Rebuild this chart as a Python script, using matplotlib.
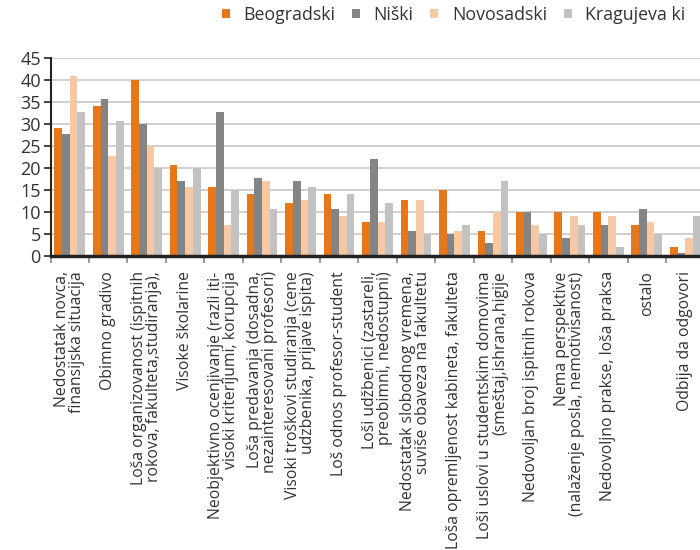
import matplotlib
matplotlib.use("Agg")
import matplotlib.pyplot as plt
import numpy as np

plt.rcParams['font.family'] = ['Open Sans', 'DejaVu Sans']

categories = [
    "Nedostatak novca,\nfinansijska situacija",
    "Obimno gradivo",
    "Loša organizovanost (ispitnih\nrokova, fakulteta,studiranja),",
    "Visoke školarine",
    "Neobjektivno ocenjivanje (razli iti-\nvisoki kriterijumi, korupcija",
    "Loša predavanja (dosadna,\nnezainteresovani profesori)",
    "Visoki troškovi studiranja (cene\nudzbenika, prijave ispita)",
    "Loš odnos profesor-student",
    "Loši udžbenici (zastareli,\npreobimni, nedostupni)",
    "Nedostatak slobodnog vremena,\nsuviše obaveza na fakultetu",
    "Loša opremljenost kabineta, fakulteta",
    "Loši uslovi u studentskim domovima\n(smeštaj,ishrana,higije",
    "Nedovoljan broj ispitnih rokova",
    "Nema perspektive\n(nalaženje posla, nemotivisanost)",
    "Nedovoljno prakse, loša praksa",
    "ostalo",
    "Odbija da odgovori",
]
series_names = ["Beogradski", "Niški", "Novosadski", "Kragujeva ki"]
beogradski = [29.1, 34.2, 40.0, 20.7, 15.7, 14.1, 12.1, 14.1, 7.7, 12.8, 15.0, 5.7, 10.0, 10.0, 10.0, 7.1, 2.0]
niski = [27.8, 35.7, 30.1, 17.1, 32.8, 17.8, 17.1, 10.7, 22.1, 5.7, 5.0, 3.0, 10.0, 4.1, 7.1, 10.7, 0.7]
novosadski = [40.8, 22.8, 25.0, 15.7, 7.1, 17.1, 12.8, 9.1, 7.7, 12.8, 5.7, 10.0, 7.1, 9.1, 9.1, 7.7, 4.1]
kragujevacki = [32.8, 30.7, 20.0, 20.0, 15.0, 10.7, 15.7, 14.1, 12.1, 5.0, 7.1, 17.1, 5.0, 7.1, 2.0, 5.0, 9.1]
colors = ["#E8771A", "#848484", "#F6C9A4", "#C2C2C2"]

fig = plt.figure(figsize=(7, 5.5), dpi=100)
ax = fig.add_axes([50.5 / 700, 1 - 256 / 550, 654 / 700, 198 / 550])

x = np.arange(len(categories))
w = 0.2
data = [beogradski, niski, novosadski, kragujevacki]
bars = []
for i, vals in enumerate(data):
    b = ax.bar(x + (i - 1.5) * w, vals, w, color=colors[i], label=series_names[i], zorder=3)
    bars.append(b)

ax.set_xlim(-0.5, len(categories) - 0.5)
ax.set_ylim(0, 45)
ax.set_yticks(np.arange(0, 46, 5))
ax.yaxis.grid(True, color="#c8c8c8", linewidth=1.2, zorder=0)
ax.tick_params(axis='y', labelsize=13, labelcolor="#333333", length=5, width=1.2, color="#222222", pad=2)

ax.set_xticks(x)
ax.set_xticklabels(categories, rotation=90, fontsize=11.3, color="#333333",
                   multialignment='right', linespacing=0.92)
ax.tick_params(axis='x', which='major', length=0, pad=11)
ax.set_xticks(np.arange(-0.5, len(categories), 1), minor=True)
ax.tick_params(axis='x', which='minor', length=5, width=1.2, color="#888888")

for s in ["top", "right"]:
    ax.spines[s].set_visible(False)
ax.spines["left"].set_color("#222222")
ax.spines["left"].set_linewidth(1.5)
ax.spines["bottom"].set_color("#222222")
ax.spines["bottom"].set_linewidth(2.5)
ax.spines["bottom"].set_zorder(4)

fig.legend(handles=bars, labels=series_names, loc='center left', bbox_to_anchor=(206 / 700, 1 - 15 / 550),
           ncol=4, frameon=False, fontsize=12.8, handlelength=0.45, handleheight=0.45,
           handletextpad=0.75, columnspacing=0.95, labelcolor="#333333")

fig.savefig("out.png", dpi=100)
